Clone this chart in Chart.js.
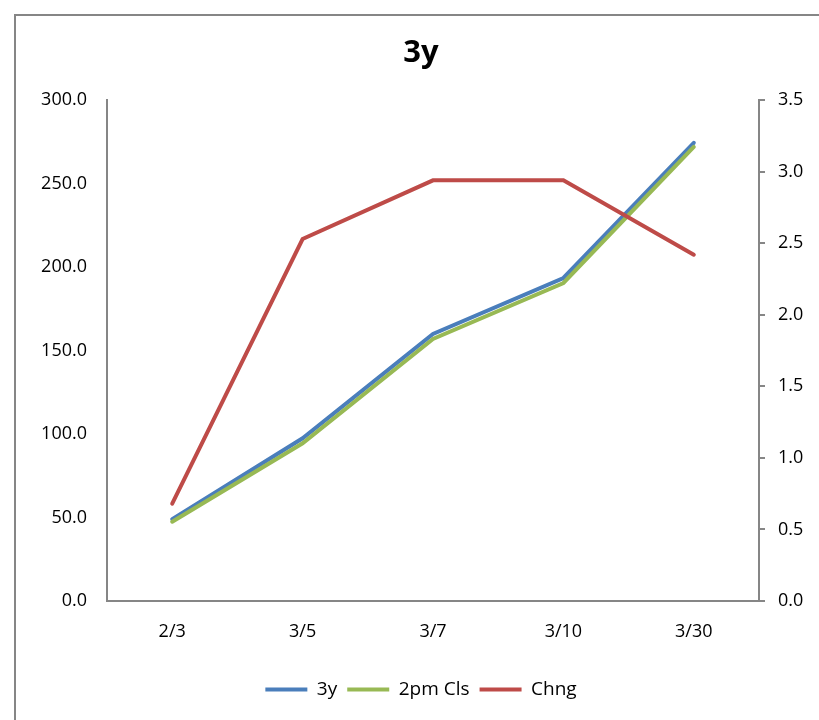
<!DOCTYPE html>
<html>
<head>
<meta charset="utf-8">
<script src="https://cdn.jsdelivr.net/npm/chart.js@4"></script>
<style>
  html, body { margin: 0; padding: 0; background: #fff; overflow: hidden; }
  #frame {
    position: absolute; left: 14px; top: 14px;
    width: 810px; height: 704px;
    border: 2px solid #868686;
  }
  #frame canvas { display: block; }
</style>
</head>
<body>
<div id="frame"><canvas id="chart3y" width="810" height="704"></canvas></div>
<script>
// chart data
const categories = ["2/3", "3/5", "3/7", "3/10", "3/30"];
const series3y = [49.0, 97.5, 160.0, 193.5, 274.5];
const series2pmCls = [47.5, 94.5, 157.0, 190.5, 272.0];
const seriesChng = [0.68, 2.53, 2.94, 2.94, 2.42];

const axisColor = "#868686";
const fontFamily = "'Open Sans', sans-serif";

document.addEventListener("DOMContentLoaded", function () {
  const ctx = document.getElementById("chart3y").getContext("2d");
  const chart = new Chart(ctx, {
    type: "line",
    data: {
      labels: categories,
      datasets: [
        {
          label: "3y",
          data: series3y,
          borderColor: "#4a7ebb",
          backgroundColor: "#4a7ebb",
          borderWidth: 4,
          borderCapStyle: "round",
          pointRadius: 0,
          tension: 0,
          yAxisID: "y",
          order: 3,
        },
        {
          label: "2pm Cls",
          data: series2pmCls,
          borderColor: "#98b954",
          backgroundColor: "#98b954",
          borderWidth: 4,
          borderCapStyle: "round",
          pointRadius: 0,
          tension: 0,
          yAxisID: "y",
          order: 2,
        },
        {
          label: "Chng",
          data: seriesChng,
          borderColor: "#be4b48",
          backgroundColor: "#be4b48",
          borderWidth: 4,
          borderCapStyle: "round",
          pointRadius: 0,
          tension: 0,
          yAxisID: "y1",
          order: 1,
        },
      ],
    },
    options: {
      responsive: false,
      animation: false,
      layout: { padding: { top: 0, left: 0, right: 0, bottom: 11 } },
      plugins: {
        tooltip: { enabled: false },
        title: {
          display: true,
          text: "3y",
          color: "#000",
          font: { family: fontFamily, size: 31, weight: "bold" },
          padding: { top: 19, bottom: 28 },
        },
        legend: {
          position: "bottom",
          labels: {
            color: "#000",
            font: { family: fontFamily, size: 19 },
            usePointStyle: true,
            pointStyle: "line",
            pointStyleWidth: 42,
            padding: 10,
            sort: (a, b) => a.datasetIndex - b.datasetIndex,
          },
        },
      },
      scales: {
        x: {
          type: "category",
          offset: true,
          grid: { display: false, drawTicks: false },
          border: { display: true, color: axisColor, width: 2 },
          ticks: {
            color: "#000",
            font: { family: fontFamily, size: 18 },
            padding: 20,
            maxRotation: 0,
          },
          afterFit: (scale) => { scale.height = 69; },
        },
        y: {
          position: "left",
          min: 0,
          max: 300,
          grid: { display: false, drawTicks: false },
          border: { display: true, color: axisColor, width: 2 },
          ticks: {
            stepSize: 50,
            color: "#000",
            font: { family: fontFamily, size: 18 },
            padding: 20,
            callback: (v) => Number(v).toFixed(1),
          },
          afterFit: (scale) => { scale.width = 91; },
        },
        y1: {
          position: "right",
          min: 0,
          max: 3.5,
          grid: {
            display: true,
            drawOnChartArea: false,
            drawTicks: true,
            tickLength: 6,
            color: axisColor,
            lineWidth: 2,
          },
          border: { display: true, color: axisColor, width: 2 },
          ticks: {
            stepSize: 0.5,
            color: "#000",
            font: { family: fontFamily, size: 18 },
            padding: 13,
            callback: (v) => Number(v).toFixed(1),
          },
          afterFit: (scale) => { scale.width = 67; },
        },
      },
    },
  });
});
</script>
</body>
</html>
